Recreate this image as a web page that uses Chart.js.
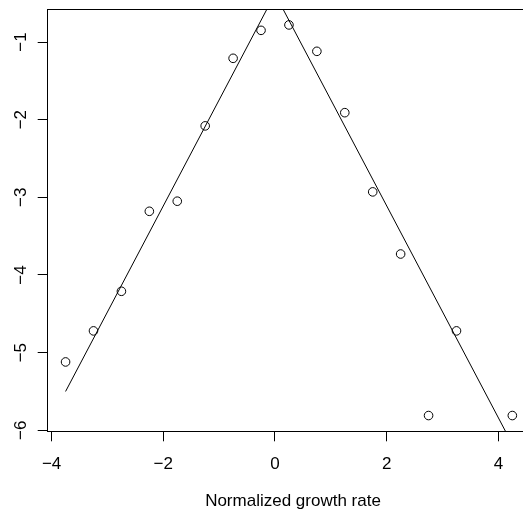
<!DOCTYPE html>
<html>
<head>
<meta charset="utf-8">
<script src="https://cdn.jsdelivr.net/npm/chart.js@4/dist/chart.umd.min.js"></script>
<style>
  html, body { margin: 0; padding: 0; background: #fff; overflow: hidden; }
  #wrap { width: 586px; height: 512px; }
</style>
</head>
<body>
<div id="wrap"><canvas id="c" width="586" height="512"></canvas></div>
<script>
// Observed log-density of normalized growth rates (binned)
const growthRate = [-3.75, -3.25, -2.75, -2.25, -1.75, -1.25, -0.75, -0.25,
                    0.25, 0.75, 1.25, 1.75, 2.25, 2.75, 3.25, 4.25];
const logDensity = [-5.12, -4.72, -4.21, -3.18, -3.05, -2.08, -1.21, -0.85,
                    -0.78, -1.12, -1.91, -2.93, -3.73, -5.81, -4.72, -5.81];

// Fitted Laplace log-density (piecewise linear, vertices)
const fitX = [-3.75, 0, 4.25];
const fitY = [-5.50, -0.38, -6.18];

// Axis ticks and limits
const xTicks = [-4, -2, 0, 2, 4];
const yTicks = [-6, -5, -4, -3, -2, -1];
const xLimits = [-4.07, 4.57];
const yLimits = [-6.013, -0.575];
const xLabel = 'Normalized growth rate';

const MINUS = '\u2212';
const fmt = v => (v < 0 ? MINUS + Math.abs(v) : String(v));
const FONT = { family: 'Liberation Sans, Arial, Helvetica, sans-serif', size: 17 };

const points = growthRate.map((x, i) => ({ x: x, y: logDensity[i] }));
const fitLine = fitX.map((x, i) => ({ x: x, y: fitY[i] }));

const tickGrid = {
  display: true,
  drawOnChartArea: false,
  drawTicks: true,
  tickLength: 10,
  color: '#000',
  lineWidth: 1
};

new Chart(document.getElementById('c'), {
  type: 'scatter',
  data: {
    datasets: [
      {
        data: points,
        showLine: false,
        pointStyle: 'circle',
        pointRadius: 4.3,
        pointBorderWidth: 1,
        pointBorderColor: '#000',
        pointBackgroundColor: 'rgba(0,0,0,0)'
      },
      {
        data: fitLine,
        showLine: true,
        borderColor: '#000',
        borderWidth: 1,
        pointRadius: 0,
        fill: false
      }
    ]
  },
  options: {
    responsive: false,
    animation: false,
    devicePixelRatio: 1,
    layout: { padding: { left: 0, top: 9, right: 0, bottom: 0 } },
    plugins: {
      legend: { display: false },
      tooltip: { enabled: false },
      title: {
        display: true,
        position: 'bottom',
        text: xLabel,
        color: '#000',
        font: { family: FONT.family, size: FONT.size, weight: 'normal' },
        padding: { top: 0, bottom: 0.4 }
      }
    },
    scales: {
      x: {
        type: 'linear',
        position: 'bottom',
        min: xLimits[0],
        max: xLimits[1],
        afterBuildTicks: s => { s.ticks = xTicks.map(v => ({ value: v })); },
        afterFit: s => { s.height = 59.9; s.paddingLeft = 0; s.paddingRight = 0; },
        ticks: {
          color: '#000',
          font: FONT,
          padding: 12.5,
          maxRotation: 0,
          autoSkip: false,
          callback: v => fmt(v)
        },
        grid: tickGrid,
        border: { display: true, color: '#000', width: 1 }
      },
      xTop: {
        type: 'linear',
        position: 'top',
        min: xLimits[0],
        max: xLimits[1],
        afterFit: s => { s.height = 0; s.paddingLeft = 0; s.paddingRight = 0; },
        ticks: { display: false },
        grid: { display: false, drawTicks: false },
        border: { display: true, color: '#000', width: 1 }
      },
      y: {
        type: 'linear',
        position: 'left',
        min: yLimits[0],
        max: yLimits[1],
        afterBuildTicks: s => { s.ticks = yTicks.map(v => ({ value: v })); },
        afterFit: s => { s.width = 47.7; s.paddingTop = 0; s.paddingBottom = 0; },
        ticks: {
          color: '#000',
          font: FONT,
          padding: 7,
          minRotation: 90,
          maxRotation: 90,
          crossAlign: 'center',
          autoSkip: false,
          callback: v => fmt(v)
        },
        grid: tickGrid,
        border: { display: true, color: '#000', width: 1 }
      },
      // right-hand margin of the plot frame (kept empty)
      yRight: {
        type: 'linear',
        position: 'right',
        min: yLimits[0],
        max: yLimits[1],
        afterFit: s => { s.width = 55.8; s.paddingTop = 0; s.paddingBottom = 0; },
        ticks: { display: false },
        grid: { display: false, drawTicks: false },
        border: { display: false }
      }
    }
  }
});
</script>
</body>
</html>
